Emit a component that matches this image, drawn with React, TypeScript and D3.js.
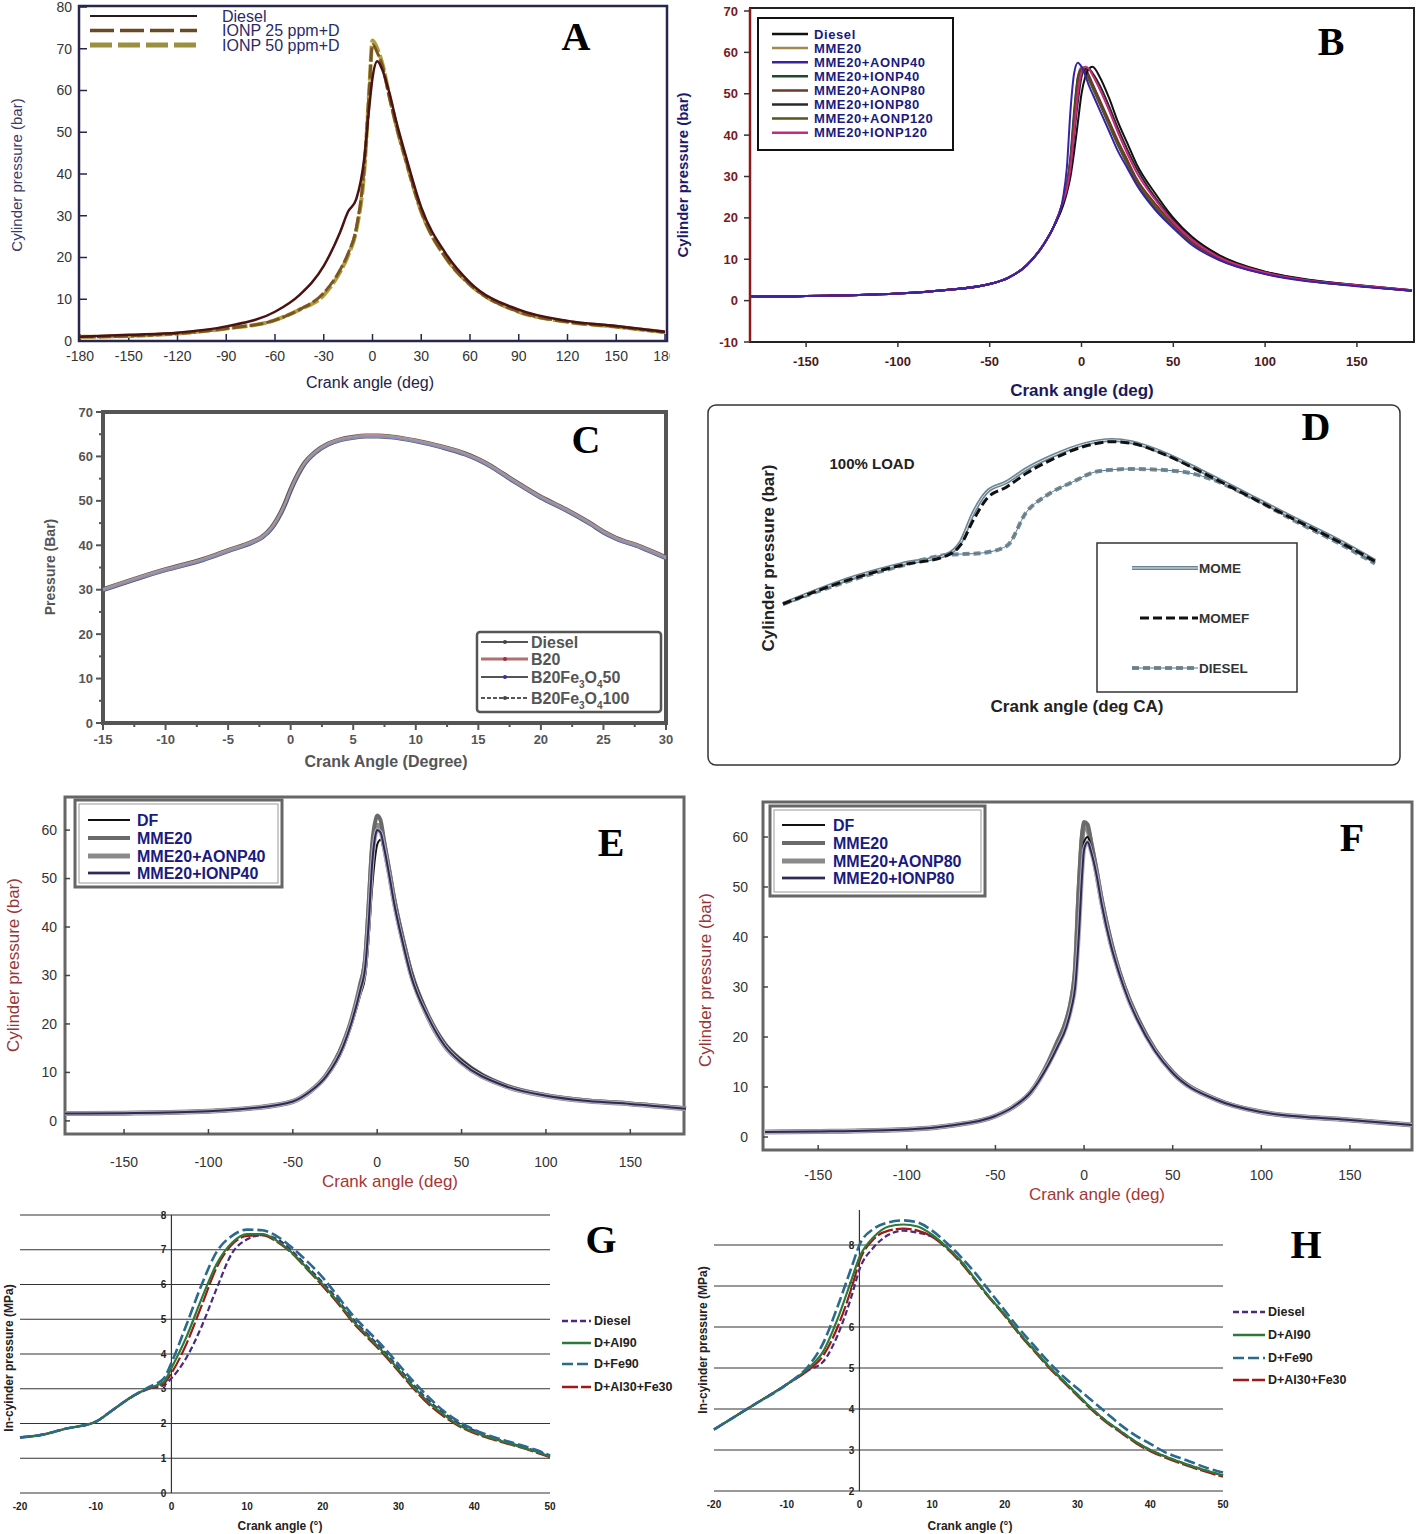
import React from 'react';
import * as d3 from 'd3';

const FONT = 'Liberation Sans, Arial, sans-serif';
const SERIF = 'Liberation Serif, Times New Roman, serif';

// ---------- Panel A ----------
const aAngles = [-180, -150, -120, -90, -60, -45, -30, -20, -15, -10, -5, -2, 0, 3, 6, 10, 15, 20, 30, 45, 60, 90, 120, 150, 180];
const aDiesel = [1, 1.5, 2, 3.5, 7, 11, 18, 26, 31, 34, 44, 56, 63, 67, 65, 60, 52, 45, 32, 21, 14, 7.5, 4.8, 3.6, 2.2];
const aIonp25 = [1, 1.2, 1.8, 3, 5, 7.5, 11.5, 17, 21, 27, 42, 60, 71, 69, 66, 59, 51, 44, 31, 20, 13.5, 7, 4.6, 3.4, 2.1];
const aIonp50 = [1, 1.2, 1.8, 3, 5, 7.5, 11, 16.5, 20.5, 26.5, 41, 60, 72, 70, 66.5, 59.5, 51, 44, 31, 20, 13.5, 7, 4.6, 3.4, 2.1];
const aLegend = ['Diesel', 'IONP 25 ppm+D', 'IONP 50 ppm+D'];
const aXTicks = [-180, -150, -120, -90, -60, -30, 0, 30, 60, 90, 120, 150, 180];
const aYTicks = [0, 10, 20, 30, 40, 50, 60, 70, 80];

// ---------- Panel B ----------
const bAngles = [-180, -160, -150, -125, -100, -75, -50, -40, -30, -20, -15, -10, -8, -6, -4, -2, 0, 2, 4, 6, 10, 15, 20, 25, 30, 40, 50, 60, 75, 100, 125, 150, 180];
const bDiesel = [1, 1, 1.1, 1.3, 1.7, 2.5, 4, 5.5, 8.5, 14, 18, 23, 26, 30, 36, 43, 50, 54, 56, 56.5, 54, 49, 43, 38, 33, 26, 20, 15.5, 11, 7, 5, 3.8, 2.5];
const bMme20 = [1, 1, 1.1, 1.3, 1.7, 2.5, 4, 5.5, 8.5, 14, 18, 24, 28, 34, 45, 54, 56.5, 56, 54, 52, 48, 43, 38, 33.5, 29, 23, 18, 14, 10, 6.5, 4.7, 3.6, 2.4];
const bAonp40 = [1, 1, 1.1, 1.3, 1.7, 2.5, 4, 5.5, 8.5, 14, 18, 25, 32, 46, 55, 57.5, 56.5, 54.5, 52, 50, 46, 41, 36, 32, 28, 22, 17.5, 13.5, 9.8, 6.4, 4.6, 3.5, 2.4];
const bIonp40 = [1, 1, 1.1, 1.3, 1.7, 2.5, 4, 5.5, 8.5, 14, 18, 24, 28, 35, 46, 54, 56, 55.5, 53.5, 51.5, 47.5, 42.5, 37.5, 33, 28.5, 22.5, 17.8, 13.8, 9.9, 6.5, 4.7, 3.6, 2.4];
const bAonp80 = [1, 1, 1.1, 1.3, 1.7, 2.5, 4, 5.5, 8.5, 14, 18, 24, 27, 33, 43, 53, 56, 56, 54.5, 52.5, 48.5, 43.5, 38.5, 34, 29.5, 23.5, 18.5, 14.3, 10.2, 6.7, 4.8, 3.6, 2.4];
const bIonp80 = [1, 1, 1.1, 1.3, 1.7, 2.5, 4, 5.5, 8.5, 14, 18, 23.5, 27, 32, 40, 48, 54, 56, 56, 55, 52, 47, 41.5, 36.5, 32, 25, 19.5, 15, 10.7, 6.9, 4.9, 3.7, 2.5];
const bAonp120 = [1, 1, 1.1, 1.3, 1.7, 2.5, 4, 5.5, 8.5, 14, 18, 24, 28, 34, 44, 53, 55.5, 55, 53.5, 51.5, 47.5, 42.5, 37.5, 33, 28.8, 22.8, 18, 14, 10, 6.6, 4.7, 3.6, 2.4];
const bIonp120 = [1, 1, 1.1, 1.3, 1.7, 2.5, 4, 5.5, 8.5, 14, 18, 24, 27, 32, 41, 50, 55, 56.5, 56, 54.5, 51, 46, 40.5, 35.5, 31, 24.5, 19, 14.8, 10.5, 6.8, 4.8, 3.7, 2.5];
const bLegend = ['Diesel', 'MME20', 'MME20+AONP40', 'MME20+IONP40', 'MME20+AONP80', 'MME20+IONP80', 'MME20+AONP120', 'MME20+IONP120'];
const bXTicks = [-150, -100, -50, 0, 50, 100, 150];
const bYTicks = [-10, 0, 10, 20, 30, 40, 50, 60, 70];

// ---------- Panel C ----------
const cAngles = [-15, -12, -10, -7, -5, -3, -2.3, -1.5, -0.5, 0, 0.5, 1, 2, 3, 4, 5, 6, 7, 8, 10, 12, 14, 15, 16, 17, 18, 20, 22, 24, 25, 26, 28, 30];
const cDiesel = [30, 32.8, 34.5, 36.8, 38.8, 40.8, 41.8, 44, 49, 52.5, 55.5, 58, 61, 62.8, 63.8, 64.3, 64.6, 64.6, 64.4, 63.5, 62.2, 60.5, 59.3, 57.8, 56, 54.2, 50.8, 48, 44.8, 43, 41.6, 39.6, 37.2];
const cB20 = [30.2, 33, 34.7, 37, 39, 41, 42, 44.2, 49.2, 52.7, 55.7, 58.2, 61.2, 63, 64, 64.5, 64.8, 64.8, 64.6, 63.7, 62.4, 60.7, 59.5, 58, 56.2, 54.4, 51, 48.2, 45, 43.2, 41.8, 39.8, 37.4];
const cFe50 = [29.8, 32.6, 34.3, 36.6, 38.6, 40.6, 41.6, 43.8, 48.8, 52.3, 55.3, 57.8, 60.8, 62.6, 63.6, 64.1, 64.4, 64.4, 64.2, 63.3, 62, 60.3, 59.1, 57.6, 55.8, 54, 50.6, 47.8, 44.6, 42.8, 41.4, 39.4, 37];
const cFe100 = [30.1, 32.9, 34.6, 36.9, 38.9, 40.9, 41.9, 44.1, 49.1, 52.6, 55.6, 58.1, 61.1, 62.9, 63.9, 64.4, 64.7, 64.7, 64.5, 63.6, 62.3, 60.6, 59.4, 57.9, 56.1, 54.3, 50.9, 48.1, 44.9, 43.1, 41.7, 39.7, 37.3];
const cXTicks = [-15, -10, -5, 0, 5, 10, 15, 20, 25, 30];
const cYTicks = [0, 10, 20, 30, 40, 50, 60, 70];

// ---------- Panel D ----------
const dAngles = [-30, -19, -12, -5, -3, -1, 1, 4, 7, 11, 16, 20, 23, 27.5, 34, 41, 48, 55, 60];
const dMome = [45, 50, 52.3, 54.1, 56.3, 61.8, 65.5, 67.3, 69.7, 72.1, 74.3, 75, 74.6, 72.8, 69.1, 64.8, 60.5, 56.3, 52.9];
const dMomef = [45, 49.8, 52.1, 53.9, 55.8, 60.5, 64.3, 66.4, 68.9, 71.5, 73.9, 74.7, 74.4, 72.6, 68.9, 64.6, 60.3, 56.1, 52.8];
const dDieselAngles = [-30, -19, -12, -5, 0, 4, 7, 10, 14, 18, 23, 30, 35, 41, 48, 55, 60];
const dDiesel = [45, 49.6, 52, 54, 54.3, 55.6, 61.8, 64.8, 67.3, 69.3, 69.7, 69.3, 67.9, 64.6, 60.1, 55.8, 52.4];
const dLegend = ['MOME', 'MOMEF', 'DIESEL'];

// ---------- Panel E ----------
const eAngles = [-185, -150, -100, -75, -50, -40, -30, -20, -15, -10, -7, -5, -3, -1, 0, 2, 4, 7, 10, 15, 20, 30, 40, 50, 75, 100, 125, 150, 183];
const eDf = [1.5, 1.6, 2, 2.6, 4, 6, 9, 15, 20, 26, 30, 38, 48, 55, 57, 58, 56, 52, 46, 38, 31, 22, 16, 12.5, 7.5, 5.3, 4.2, 3.6, 2.6];
const eMme20 = [1.5, 1.6, 2, 2.6, 4, 6, 9.5, 16, 21, 28, 34, 45, 57, 62, 63, 62, 58, 52, 46, 38, 31, 22, 16, 12.5, 7.5, 5.3, 4.2, 3.6, 2.6];
const eAonp40 = [1.5, 1.6, 2, 2.6, 4, 6, 9.5, 16, 21, 28, 33, 43, 55, 60, 61, 60.5, 57, 51.5, 45.5, 37.5, 30.5, 21.5, 15.5, 12, 7.3, 5.2, 4.1, 3.5, 2.5];
const eIonp40 = [1.5, 1.6, 2, 2.6, 4, 6, 9.3, 15.5, 20.5, 27, 32, 41, 53, 59, 60, 59.5, 56.5, 51, 45, 37, 30, 21.5, 15.5, 12, 7.3, 5.2, 4.1, 3.5, 2.5];
const eLegend = ['DF', 'MME20', 'MME20+AONP40', 'MME20+IONP40'];
const eXTicks = [-150, -100, -50, 0, 50, 100, 150];
const eYTicks = [0, 10, 20, 30, 40, 50, 60];

// ---------- Panel F ----------
const fAngles = [-180, -150, -100, -75, -50, -40, -30, -20, -15, -10, -7, -5, -3, -1, 0, 2, 4, 7, 10, 15, 20, 25, 30, 40, 50, 75, 100, 125, 150, 185];
const fDf = [1, 1.1, 1.5, 2.3, 4.2, 6, 9, 14.5, 18, 22, 26, 30, 42, 55, 59, 60, 58, 53, 47, 39, 33, 28, 24, 17.5, 13, 7.5, 5, 4, 3.4, 2.4];
const fMme20 = [1, 1.1, 1.5, 2.3, 4.2, 6, 9, 15, 19, 23.5, 28, 34, 50, 61, 63, 62.5, 59, 53.5, 47.5, 39.5, 33, 28, 24, 17.5, 13, 7.5, 5, 4, 3.4, 2.4];
const fAonp80 = [1, 1.1, 1.5, 2.3, 4.2, 6, 9, 15, 19, 23, 27.5, 33, 48, 60, 62, 61.5, 58.5, 53, 47, 39, 32.8, 27.8, 23.8, 17.4, 12.9, 7.4, 5, 4, 3.4, 2.4];
const fIonp80 = [1, 1.1, 1.5, 2.3, 4.2, 6, 9, 14.5, 18, 22, 26, 30, 40, 53, 57.5, 59, 57, 52.5, 46.5, 38.5, 32.5, 27.5, 23.5, 17.2, 12.8, 7.4, 5, 4, 3.4, 2.4];
const fLegend = ['DF', 'MME20', 'MME20+AONP80', 'MME20+IONP80'];
const fXTicks = [-150, -100, -50, 0, 50, 100, 150];
const fYTicks = [0, 10, 20, 30, 40, 50, 60];

// ---------- Panel G ----------
const gAngles = [-20, -17, -14, -10, -8, -5, -3, -1, 0, 2, 4, 6, 8, 10, 12, 14, 16, 18, 20, 22, 24, 26, 28, 30, 32, 34, 36, 38, 40, 42, 45, 48, 50];
const gDiesel = [1.6, 1.68, 1.85, 2.05, 2.35, 2.8, 3.0, 3.1, 3.3, 3.9, 4.8, 5.9, 6.9, 7.3, 7.42, 7.3, 6.95, 6.5, 6.05, 5.55, 5.0, 4.55, 4.1, 3.6, 3.1, 2.65, 2.3, 2.0, 1.8, 1.62, 1.42, 1.22, 1.07];
const gAl90 = [1.6, 1.68, 1.85, 2.05, 2.35, 2.8, 3.02, 3.2, 3.6, 4.5, 5.6, 6.6, 7.2, 7.45, 7.45, 7.25, 6.9, 6.45, 6.0, 5.5, 4.95, 4.5, 4.05, 3.55, 3.05, 2.6, 2.25, 1.95, 1.75, 1.6, 1.4, 1.2, 1.05];
const gFe90 = [1.6, 1.68, 1.85, 2.05, 2.35, 2.8, 3.05, 3.3, 3.75, 4.85, 6.0, 6.95, 7.4, 7.58, 7.56, 7.38, 7.05, 6.65, 6.2, 5.65, 5.1, 4.65, 4.2, 3.7, 3.2, 2.75, 2.35, 2.05, 1.82, 1.65, 1.45, 1.25, 1.08];
const gAl30Fe30 = [1.6, 1.68, 1.85, 2.05, 2.35, 2.8, 3.0, 3.15, 3.45, 4.3, 5.4, 6.5, 7.15, 7.4, 7.42, 7.22, 6.88, 6.42, 5.95, 5.45, 4.9, 4.45, 4.0, 3.5, 3.0, 2.55, 2.2, 1.92, 1.72, 1.57, 1.38, 1.18, 1.03];
const ghLegend = ['Diesel', 'D+Al90', 'D+Fe90', 'D+Al30+Fe30'];
const gXTicks = [-20, -10, 0, 10, 20, 30, 40, 50];
const gYTicks = [0, 1, 2, 3, 4, 5, 6, 7, 8];

// ---------- Panel H ----------
const hAngles = [-20, -15, -10, -7, -5, -3, -1, 0, 2, 4, 6, 8, 10, 12, 14, 16, 18, 20, 22, 24, 26, 28, 30, 32, 34, 36, 38, 40, 42, 45, 48, 50];
const hDiesel = [3.5, 4.05, 4.6, 4.95, 5.15, 5.8, 6.8, 7.4, 7.95, 8.25, 8.35, 8.3, 8.2, 7.95, 7.6, 7.15, 6.7, 6.3, 5.85, 5.45, 5.05, 4.7, 4.35, 4.0, 3.7, 3.45, 3.2, 3.0, 2.85, 2.65, 2.48, 2.38];
const hAl90 = [3.5, 4.05, 4.6, 5.0, 5.4, 6.2, 7.2, 7.7, 8.2, 8.45, 8.5, 8.45, 8.25, 7.95, 7.6, 7.15, 6.7, 6.3, 5.85, 5.45, 5.05, 4.7, 4.35, 4.0, 3.7, 3.45, 3.2, 3.0, 2.85, 2.65, 2.48, 2.38];
const hFe90 = [3.5, 4.05, 4.6, 5.05, 5.6, 6.5, 7.5, 8.0, 8.4, 8.55, 8.6, 8.55, 8.35, 8.05, 7.7, 7.3, 6.85, 6.4, 5.95, 5.55, 5.15, 4.8, 4.5, 4.2, 3.9, 3.6, 3.35, 3.15, 2.95, 2.75, 2.55, 2.45];
const hAl30Fe30 = [3.5, 4.05, 4.6, 4.95, 5.3, 6.0, 7.0, 7.6, 8.15, 8.35, 8.4, 8.35, 8.2, 7.92, 7.56, 7.12, 6.68, 6.27, 5.82, 5.42, 5.02, 4.67, 4.32, 3.97, 3.67, 3.42, 3.17, 2.97, 2.82, 2.62, 2.45, 2.35];
const hXTicks = [-20, -10, 0, 10, 20, 30, 40, 50];
const hYTicks = [2, 3, 4, 5, 6, 7, 8];

type Scale = d3.ScaleLinear<number, number>;

function linePath(xs: number[], ys: number[], x: Scale, y: Scale, curve: any = d3.curveMonotoneX) {
  return d3.line<number>().x((_, i) => x(xs[i])).y(d => y(d)).curve(curve)(ys) || '';
}

function Letter({ x, y, t }: { x: number; y: number; t: string }) {
  return <text x={x} y={y} textAnchor="middle" fontFamily={SERIF} fontWeight="bold" fontSize={40} fill="#000">{t}</text>;
}

function PanelA() {
  const x = d3.scaleLinear().domain([-180, 180]).range([80, 665]);
  const y = d3.scaleLinear().domain([0, 80]).range([341, 7]);
  const navy = '#26264e';
  const series = [
    { v: aIonp50, c: '#b39d3a', w: 4, dash: '16 3' },
    { v: aIonp25, c: '#7a5522', w: 3, dash: '14 3' },
    { v: aDiesel, c: '#4a1212', w: 2.5, dash: undefined as string | undefined },
  ];
  const leg = [
    { c: '#2a1a1a', w: 2, dash: undefined as string | undefined },
    { c: '#6a4a22', w: 3.5, dash: '24 6' },
    { c: '#9a9040', w: 5, dash: '22 6' },
  ];
  return (
    <g clipPath="url(#clipA)">
      <rect x={79} y={6} width={588} height={335} fill="none" stroke={navy} strokeWidth={2.5} />
      {aYTicks.map(t => (
        <g key={t}>
          <line x1={80} x2={87} y1={y(t)} y2={y(t)} stroke={navy} strokeWidth={1.5} />
          <text x={72} y={y(t)} dy="0.35em" textAnchor="end" fontFamily={FONT} fontSize={14} fill="#333">{t}</text>
        </g>
      ))}
      {aXTicks.map(t => (
        <g key={t}>
          <line x1={x(t)} x2={x(t)} y1={341} y2={334} stroke={navy} strokeWidth={1.5} />
          <text x={x(t)} y={361} textAnchor="middle" fontFamily={FONT} fontSize={14} fill="#333">{t}</text>
        </g>
      ))}
      {series.map((s, i) => (
        <path key={i} d={linePath(aAngles, s.v, x, y)} fill="none" stroke={s.c} strokeWidth={s.w} strokeDasharray={s.dash} />
      ))}
      {aLegend.map((n, i) => (
        <g key={n}>
          <line x1={90} x2={197} y1={16 + i * 14.5} y2={16 + i * 14.5} stroke={leg[i].c} strokeWidth={leg[i].w} strokeDasharray={leg[i].dash} />
          <text x={222} y={16 + i * 14.5} dy="0.35em" fontFamily={FONT} fontSize={16} fill="#2a2a6a">{n}</text>
        </g>
      ))}
      <text transform="translate(22,175) rotate(-90)" textAnchor="middle" fontFamily={FONT} fontSize={15} fill="#3a3a6a">Cylinder pressure (bar)</text>
      <text x={370} y={388} textAnchor="middle" fontFamily={FONT} fontSize={16} fill="#22224a">Crank angle (deg)</text>
      <Letter x={576} y={50} t="A" />
    </g>
  );
}

function PanelB() {
  const x = d3.scaleLinear().domain([-180, 180]).range([751, 1412]);
  const y = d3.scaleLinear().domain([-10, 70]).range([342, 11]);
  const red = '#7a1a1a';
  const ser = [
    { v: bDiesel, c: '#111111' },
    { v: bMme20, c: '#a08850' },
    { v: bAonp40, c: '#3a22a8' },
    { v: bIonp40, c: '#1f4a2c' },
    { v: bAonp80, c: '#6a3a2a' },
    { v: bIonp80, c: '#2a2a2a' },
    { v: bAonp120, c: '#55551e' },
    { v: bIonp120, c: '#c8287e' },
  ];
  const order = [1, 3, 6, 4, 5, 0, 7, 2];
  return (
    <g>
      <rect x={750} y={8} width={664} height={334} fill="none" stroke="#222" strokeWidth={2} />
      <line x1={750} x2={750} y1={8} y2={342} stroke="#8b1a1a" strokeWidth={2.5} />
      {bYTicks.map(t => (
        <g key={t}>
          <line x1={744} x2={750} y1={y(t)} y2={y(t)} stroke="#333" strokeWidth={1.5} />
          <text x={738} y={y(t)} dy="0.35em" textAnchor="end" fontFamily={FONT} fontWeight="bold" fontSize={13} fill={red}>{t}</text>
        </g>
      ))}
      {bXTicks.map(t => (
        <g key={t}>
          <line x1={x(t)} x2={x(t)} y1={342} y2={347} stroke="#333" strokeWidth={1.5} />
          <text x={x(t)} y={366} textAnchor="middle" fontFamily={FONT} fontWeight="bold" fontSize={13} fill="#4a1a1a">{t}</text>
        </g>
      ))}
      {order.map(i => (
        <path key={i} d={linePath(bAngles, ser[i].v, x, y)} fill="none" stroke={ser[i].c} strokeWidth={2} />
      ))}
      <rect x={758} y={18} width={195} height={132} fill="#fff" stroke="#111" strokeWidth={2} />
      {bLegend.map((n, i) => (
        <g key={n}>
          <line x1={772} x2={808} y1={34 + i * 14.1} y2={34 + i * 14.1} stroke={ser[i].c} strokeWidth={2.5} />
          <text x={814} y={34 + i * 14.1} dy="0.35em" fontFamily={FONT} fontWeight="bold" fontSize={13} letterSpacing={0.6} fill="#1a1a80">{n}</text>
        </g>
      ))}
      <text transform="translate(688,175) rotate(-90)" textAnchor="middle" fontFamily={FONT} fontWeight="bold" fontSize={15} fill="#1a1a70">Cylinder pressure (bar)</text>
      <text x={1082} y={396} textAnchor="middle" fontFamily={FONT} fontWeight="bold" fontSize={17} fill="#1a1a5a">Crank angle (deg)</text>
      <Letter x={1331} y={55} t="B" />
    </g>
  );
}

function PanelC() {
  const x = d3.scaleLinear().domain([-15, 30]).range([103, 666]);
  const y = d3.scaleLinear().domain([0, 70]).range([723, 412]);
  const gray = '#555';
  const ser = [
    { v: cDiesel, c: '#5a5a5a', w: 5 },
    { v: cB20, c: '#c48a8a', w: 2 },
    { v: cFe50, c: '#8a8ac8', w: 2 },
    { v: cFe100, c: '#9a9a9a', w: 1.5 },
  ];
  const minorY = d3.range(5, 70, 10);
  const minorX = d3.range(-12.5, 30, 5);
  return (
    <g>
      <rect x={103} y={412} width={563} height={311} fill="none" stroke={gray} strokeWidth={4} />
      {cYTicks.map(t => (
        <g key={t}>
          <line x1={96} x2={103} y1={y(t)} y2={y(t)} stroke={gray} strokeWidth={2} />
          <text x={93} y={y(t)} dy="0.35em" textAnchor="end" fontFamily={FONT} fontWeight="bold" fontSize={13} fill={gray}>{t}</text>
        </g>
      ))}
      {minorY.map(t => <line key={t} x1={99} x2={103} y1={y(t)} y2={y(t)} stroke={gray} strokeWidth={2} />)}
      {cXTicks.map(t => (
        <g key={t}>
          <line x1={x(t)} x2={x(t)} y1={723} y2={730} stroke={gray} strokeWidth={2} />
          <text x={x(t)} y={744} textAnchor="middle" fontFamily={FONT} fontWeight="bold" fontSize={13} fill={gray}>{t}</text>
        </g>
      ))}
      {minorX.map(t => <line key={t} x1={x(t)} x2={x(t)} y1={723} y2={727} stroke={gray} strokeWidth={2} />)}
      {ser.map((s, i) => (
        <path key={i} d={linePath(cAngles, s.v, x, y)} fill="none" stroke={s.c} strokeWidth={s.w} />
      ))}
      <rect x={477} y={632} width={184} height={80} rx={3} fill="#fff" stroke={gray} strokeWidth={2.5} />
      {[642, 659, 677, 698].map((yy, i) => (
        <g key={i}>
          <line x1={481} x2={528} y1={yy} y2={yy} stroke={i === 1 ? '#b07070' : '#555'} strokeWidth={i === 1 ? 3 : 2} strokeDasharray={i === 3 ? '4 2' : undefined} />
          <circle cx={505} cy={yy} r={2} fill={['#444', '#a03030', '#3030a0', '#444'][i]} />
        </g>
      ))}
      <text x={531} y={642} dy="0.35em" fontFamily={FONT} fontWeight="bold" fontSize={16} fill={gray}>Diesel</text>
      <text x={531} y={659} dy="0.35em" fontFamily={FONT} fontWeight="bold" fontSize={16} fill={gray}>B20</text>
      <text x={531} y={677} dy="0.35em" fontFamily={FONT} fontWeight="bold" fontSize={16} fill={gray}>B20Fe<tspan dy={5} fontSize={10}>3</tspan><tspan dy={-5}>O</tspan><tspan dy={5} fontSize={10}>4</tspan><tspan dy={-5}>50</tspan></text>
      <text x={531} y={698} dy="0.35em" fontFamily={FONT} fontWeight="bold" fontSize={16} fill={gray}>B20Fe<tspan dy={5} fontSize={10}>3</tspan><tspan dy={-5}>O</tspan><tspan dy={5} fontSize={10}>4</tspan><tspan dy={-5}>100</tspan></text>
      <text transform="translate(55,567) rotate(-90)" textAnchor="middle" fontFamily={FONT} fontWeight="bold" fontSize={14} fill={gray}>Pressure (Bar)</text>
      <text x={386} y={767} textAnchor="middle" fontFamily={FONT} fontWeight="bold" fontSize={16} fill={gray}>Crank Angle (Degree)</text>
      <Letter x={586} y={453} t="C" />
    </g>
  );
}

function PanelD() {
  const x = d3.scaleLinear().domain([-30, 60]).range([783, 1375]);
  const y = d3.scaleLinear().domain([45, 75]).range([604, 440]);
  return (
    <g>
      <rect x={708} y={405} width={692} height={360} rx={8} fill="none" stroke="#333" strokeWidth={1.5} />
      <path d={linePath(dDieselAngles, dDiesel, x, y)} fill="none" stroke="#7d8a90" strokeWidth={4} strokeDasharray="7 4" />
      <path d={linePath(dDieselAngles, dDiesel, x, y)} fill="none" stroke="#4a7a9a" strokeWidth={1} />
      <path d={linePath(dAngles, dMome, x, y)} fill="none" stroke="#6d8592" strokeWidth={4} />
      <path d={linePath(dAngles, dMome, x, y)} fill="none" stroke="#d8e4ea" strokeWidth={1} />
      <path d={linePath(dAngles, dMomef, x, y)} fill="none" stroke="#111" strokeWidth={3} strokeDasharray="9 4" />
      <text x={872} y={469} textAnchor="middle" fontFamily={FONT} fontWeight="bold" fontSize={15} fill="#222">100% LOAD</text>
      <rect x={1097} y={543} width={200} height={149} fill="#fff" stroke="#333" strokeWidth={1.5} />
      <line x1={1132} x2={1198} y1={568} y2={568} stroke="#6d8592" strokeWidth={4} />
      <line x1={1132} x2={1198} y1={568} y2={568} stroke="#e0e8ee" strokeWidth={1} />
      <line x1={1140} x2={1198} y1={618} y2={618} stroke="#111" strokeWidth={3} strokeDasharray="9 4" />
      <line x1={1132} x2={1198} y1={668} y2={668} stroke="#7d8a90" strokeWidth={4} strokeDasharray="7 4" />
      <line x1={1132} x2={1198} y1={668} y2={668} stroke="#4a7a9a" strokeWidth={1} />
      {dLegend.map((n, i) => (
        <text key={n} x={1199} y={568 + i * 50} dy="0.35em" fontFamily={FONT} fontWeight="bold" fontSize={13.5} fill="#333">{n}</text>
      ))}
      <text transform="translate(774,558) rotate(-90)" textAnchor="middle" fontFamily={FONT} fontWeight="bold" fontSize={17} fill="#222">Cylinder pressure (bar)</text>
      <text x={1077} y={712} textAnchor="middle" fontFamily={FONT} fontWeight="bold" fontSize={17} fill="#222">Crank angle (deg CA)</text>
      <Letter x={1316} y={440} t="D" />
    </g>
  );
}

function PanelEF(props: {
  angles: number[]; series: number[][]; legend: string[]; x: Scale; y: Scale;
  frame: [number, number, number, number]; xTicks: number[]; yTicks: number[];
  legendBox: [number, number, number, number]; legLineX: [number, number]; legTextX: number; legY: number[];
  ytitle: [number, number]; xtitle: [number, number]; letter: [number, number, string]; yLabX: number; xLabY: number;
}) {
  const { angles, series, legend, x, y, frame, xTicks, yTicks, legendBox, legLineX, legTextX, legY } = props;
  const styles = [
    { c: '#111', w: 2 },
    { c: '#6a6a6a', w: 4 },
    { c: '#8a8a8a', w: 5 },
    { c: '#2e2a55', w: 2 },
  ];
  const order = [2, 1, 0, 3];
  const [fx, fy, fw, fh] = frame;
  return (
    <g>
      <rect x={fx} y={fy} width={fw} height={fh} fill="none" stroke="#666" strokeWidth={3} />
      {yTicks.map(t => (
        <g key={t}>
          <line x1={fx} x2={fx + 5} y1={y(t)} y2={y(t)} stroke="#444" strokeWidth={1.5} />
          <text x={props.yLabX} y={y(t)} dy="0.35em" textAnchor="end" fontFamily={FONT} fontSize={14} fill="#333">{t}</text>
        </g>
      ))}
      {xTicks.map(t => (
        <g key={t}>
          <line x1={x(t)} x2={x(t)} y1={fy + fh} y2={fy + fh - 5} stroke="#444" strokeWidth={1.5} />
          <text x={x(t)} y={props.xLabY} textAnchor="middle" fontFamily={FONT} fontSize={14} fill="#333">{t}</text>
        </g>
      ))}
      {order.map(i => (
        <g key={i}>
          {i === 3 && <path d={linePath(angles, series[i], x, y)} fill="none" stroke="#b0b0c0" strokeWidth={4} />}
          <path d={linePath(angles, series[i], x, y)} fill="none" stroke={styles[i].c} strokeWidth={styles[i].w} />
        </g>
      ))}
      <rect x={legendBox[0]} y={legendBox[1]} width={legendBox[2]} height={legendBox[3]} fill="#fff" stroke="#666" strokeWidth={3} />
      <rect x={legendBox[0] + 4} y={legendBox[1] + 4} width={legendBox[2] - 8} height={legendBox[3] - 8} fill="none" stroke="#999" strokeWidth={1} />
      {legend.map((n, i) => (
        <g key={n}>
          {i === 3 && <line x1={legLineX[0]} x2={legLineX[1]} y1={legY[i]} y2={legY[i]} stroke="#b0b0c0" strokeWidth={4} />}
          <line x1={legLineX[0]} x2={legLineX[1]} y1={legY[i]} y2={legY[i]} stroke={styles[i].c} strokeWidth={styles[i].w} />
          <text x={legTextX} y={legY[i]} dy="0.35em" fontFamily={FONT} fontWeight="bold" fontSize={16} fill="#1a1a80">{n}</text>
        </g>
      ))}
      <text transform={`translate(${props.ytitle[0]},${props.ytitle[1]}) rotate(-90)`} textAnchor="middle" fontFamily={FONT} fontSize={17} fill="#9a3535">Cylinder pressure (bar)</text>
      <text x={props.xtitle[0]} y={props.xtitle[1]} textAnchor="middle" fontFamily={FONT} fontSize={17} fill="#a83535">Crank angle (deg)</text>
      <Letter x={props.letter[0]} y={props.letter[1]} t={props.letter[2]} />
    </g>
  );
}

function PanelGH(props: {
  angles: number[]; series: number[][]; x: Scale; y: Scale; yTicks: number[]; xTicks: number[];
  axisTop: number; legX: number; legTextX: number; legY: number[]; ytitleX: number; ytitleY: number; xtitle: [number, number]; letter: [number, number, string];
}) {
  const { angles, series, x, y, yTicks, xTicks } = props;
  const styles = [
    { c: '#4a2a7e', w: 2.2, dash: '6 3' },
    { c: '#2b7a3a', w: 2.2, dash: undefined as string | undefined },
    { c: '#2a6a8c', w: 2.6, dash: '11 4' },
    { c: '#a01818', w: 2.2, dash: '16 3' },
  ];
  const x0 = x.domain()[0];
  const x1 = x.domain()[1];
  const order = [0, 3, 1, 2];
  return (
    <g>
      {yTicks.map(t => (
        <g key={t}>
          <line x1={x(x0)} x2={x(x1)} y1={y(t)} y2={y(t)} stroke="#333" strokeWidth={1.2} />
          <text x={x(0) - 5} y={y(t)} dy="0.35em" textAnchor="end" fontFamily={FONT} fontWeight="bold" fontSize={10} fill="#222">{t}</text>
        </g>
      ))}
      <line x1={x(0)} x2={x(0)} y1={y(yTicks[0])} y2={props.axisTop} stroke="#333" strokeWidth={1.2} />
      {xTicks.map(t => (
        <text key={t} x={x(t)} y={y(yTicks[0]) + 17} textAnchor="middle" fontFamily={FONT} fontWeight="bold" fontSize={10} fill="#222">{t}</text>
      ))}
      {order.map(i => (
        <path key={i} d={linePath(angles, series[i], x, y)} fill="none" stroke={styles[i].c} strokeWidth={styles[i].w} strokeDasharray={styles[i].dash} />
      ))}
      {ghLegend.map((n, i) => (
        <g key={n}>
          <line x1={props.legX} x2={props.legTextX - 3} y1={props.legY[i]} y2={props.legY[i]} stroke={styles[i].c} strokeWidth={2.5} strokeDasharray={styles[i].dash} />
          <text x={props.legTextX} y={props.legY[i]} dy="0.35em" fontFamily={FONT} fontWeight="bold" fontSize={12.5} fill="#222">{n}</text>
        </g>
      ))}
      <text transform={`translate(${props.ytitleX},${props.ytitleY}) rotate(-90)`} textAnchor="middle" fontFamily={FONT} fontWeight="bold" fontSize={12} fill="#222">In-cyinder pressure (MPa)</text>
      <text x={props.xtitle[0]} y={props.xtitle[1]} textAnchor="middle" fontFamily={FONT} fontWeight="bold" fontSize={12} fill="#222">Crank angle (°)</text>
      <Letter x={props.letter[0]} y={props.letter[1]} t={props.letter[2]} />
    </g>
  );
}

export default function App() {
  const ex = d3.scaleLinear().domain([-185, 183]).range([65, 686]);
  const ey = d3.scaleLinear().domain([-2.5, 66]).range([1133, 801]);
  const fx = d3.scaleLinear().domain([-180, 185]).range([765, 1412]);
  const fy = d3.scaleLinear().domain([-2.6, 67]).range([1150, 802]);
  const gx = d3.scaleLinear().domain([-20, 50]).range([20, 550]);
  const gy = d3.scaleLinear().domain([0, 8]).range([1493, 1215]);
  const hx = d3.scaleLinear().domain([-20, 50]).range([714, 1223]);
  const hy = d3.scaleLinear().domain([2, 8]).range([1491, 1245]);
  return (
    <div style={{ position: 'absolute', left: 0, top: 0 }}>
      <svg width={1416} height={1534} xmlns="http://www.w3.org/2000/svg" style={{ display: 'block', background: '#fff' }}>
        <defs>
          <clipPath id="clipA"><rect x={0} y={0} width={670} height={400} /></clipPath>
        </defs>
        <rect x={0} y={0} width={1416} height={1534} fill="#fff" />
        <PanelA />
        <PanelB />
        <PanelC />
        <PanelD />
        <PanelEF angles={eAngles} series={[eDf, eMme20, eAonp40, eIonp40]} legend={eLegend} x={ex} y={ey}
          frame={[65, 797, 619, 337]} xTicks={eXTicks} yTicks={eYTicks}
          legendBox={[75, 800, 207, 87]} legLineX={[88, 130]} legTextX={137} legY={[820, 838, 856, 873]}
          ytitle={[19, 965]} xtitle={[390, 1187]} letter={[611, 856, 'E']} yLabX={57} xLabY={1167} />
        <PanelEF angles={fAngles} series={[fDf, fMme20, fAonp80, fIonp80]} legend={fLegend} x={fx} y={fy}
          frame={[763, 802, 649, 348]} xTicks={fXTicks} yTicks={fYTicks}
          legendBox={[770, 806, 215, 90]} legLineX={[782, 825]} legTextX={833} legY={[825, 843, 861, 878]}
          ytitle={[711, 980]} xtitle={[1097, 1200]} letter={[1352, 851, 'F']} yLabX={748} xLabY={1180} />
        <PanelGH angles={gAngles} series={[gDiesel, gAl90, gFe90, gAl30Fe30]} x={gx} y={gy} yTicks={gYTicks} xTicks={gXTicks}
          axisTop={1215} legX={562} legTextX={594} legY={[1321, 1343, 1364, 1387]} ytitleX={13} ytitleY={1358}
          xtitle={[280, 1530]} letter={[601, 1253, 'G']} />
        <PanelGH angles={hAngles} series={[hDiesel, hAl90, hFe90, hAl30Fe30]} x={hx} y={hy} yTicks={hYTicks} xTicks={hXTicks}
          axisTop={1210} legX={1233} legTextX={1268} legY={[1312, 1335, 1358, 1380]} ytitleX={707} ytitleY={1340}
          xtitle={[970, 1530]} letter={[1306, 1258, 'H']} />
      </svg>
    </div>
  );
}
